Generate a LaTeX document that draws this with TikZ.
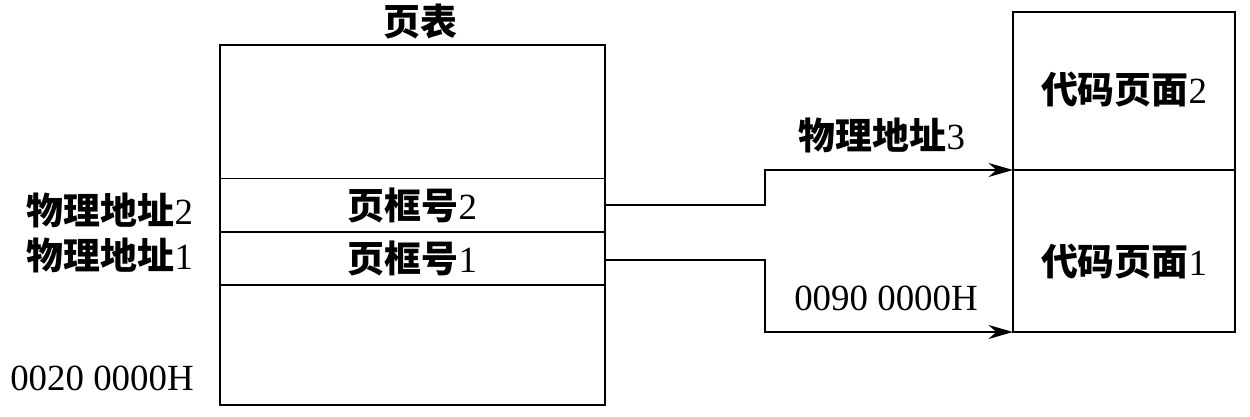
\documentclass[tikz,border=0pt]{standalone}
\usepackage{fontspec}
\setmainfont{Liberation Serif}
\newfontfamily\cjk{Noto Sans CJK SC}
\usetikzlibrary{arrows.meta}
\newcommand{\zh}[1]{{\cjk\bfseries #1}}
\begin{document}
\begin{tikzpicture}[x=0.02cm,y=-0.02cm,
  lbl/.style={inner sep=0pt,font=\fontsize{21}{24}\selectfont},
  box/.style={draw,line width=0.9pt},
  row/.style={box,minimum width=7.7cm,minimum height=1.06cm,inner sep=0pt,font=\fontsize{21}{24}\selectfont},
  conn/.style={line width=0.9pt,-{Stealth[length=14pt,width=8pt]}}]
\useasboundingbox (0,0) rectangle (1250,416);
\draw[box] (220,45) rectangle (605,405);
\node[row] (f2) at (412.5,205) {\zh{页框号}2};
\node[row] (f1) at (412.5,258.5) {\zh{页框号}1};
\node[box,minimum width=4.44cm,minimum height=3.16cm,inner sep=0pt] (c2) at (1124,91) {};
\node[box,minimum width=4.44cm,minimum height=3.24cm,inner sep=0pt] (c1) at (1124,251) {};
\node[lbl] (c2t) at (1124,90) {\zh{代码页面}2};
\node[lbl] (c1t) at (1124,262) {\zh{代码页面}1};
\coordinate (t2) at (1013,170);
\coordinate (t1) at (1013,332);
\draw[conn] (f2.east) -- (765,205) -- (765,170) -- (t2);
\draw[conn] (f1.east |- 0,260) -- (765,260) -- (765,332) -- (t1);
\node[lbl] (title) at (420,22) {\zh{页表}};
\node[lbl] (p2) at (110,210) {\zh{物理地址}2};
\node[lbl] (p1) at (110,255) {\zh{物理地址}1};
\node[lbl] (b1) at (102,378) {0020 0000H};
\node[lbl] (p3) at (882,135) {\zh{物理地址}3};
\node[lbl] (b2) at (886,298) {0090 0000H};
\end{tikzpicture}
\end{document}
